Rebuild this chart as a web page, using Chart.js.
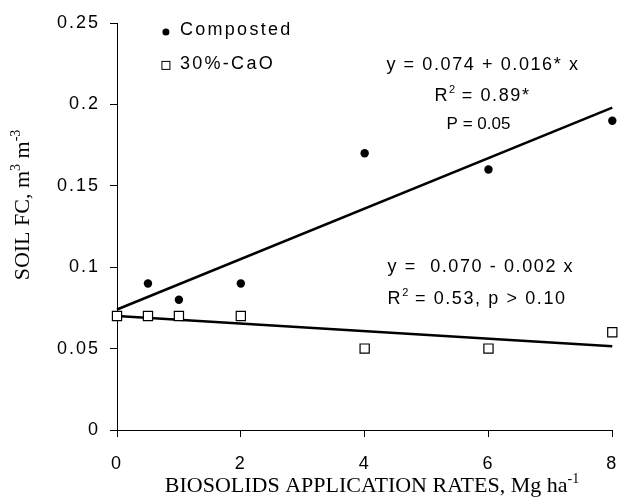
<!DOCTYPE html>
<html><head><meta charset="utf-8">
<script src="https://cdn.jsdelivr.net/npm/chart.js@4/dist/chart.umd.min.js"></script>
<style>html,body{margin:0;padding:0;background:#fff;}#wrap{width:620px;height:499px;}</style>
</head><body><div id="wrap"><canvas id="c" width="620" height="499"></canvas></div>
<script>
// ---- data ----
const rates = [0, 0.5, 1, 2, 4, 6, 8];
const composted = [0.07, 0.09, 0.08, 0.09, 0.17, 0.16, 0.19];
const cao = [0.07, 0.07, 0.07, 0.07, 0.05, 0.05, 0.06];
const trendX = [0, 8];
const trendComposted = [0.074, 0.198];
const trendCao = [0.070, 0.0515];
const xTickValues = [0, 2, 4, 6, 8];
const yTickLabels = ['0', '0.05', '0.1', '0.15', '0.2', '0.25'];
const seriesNames = ['Composted', '30%-CaO'];
const xTitle = 'BIOSOLIDS APPLICATION RATES, Mg ha';
const yTitle = 'SOIL FC, m';

const SANS = '"Liberation Sans", Arial, sans-serif';
const SERIF = '"Liberation Serif", "Times New Roman", serif';

function pts(xs, ys) { return xs.map((x, i) => ({x: x, y: ys[i]})); }

function drawRich(ctx, segs, x, y, align, size, family, spacing) {
  let total = 0;
  const parts = segs.map(s => {
    const fs = s.sup ? Math.round(size * 0.62) : size;
    ctx.font = fs + 'px ' + family;
    ctx.letterSpacing = (s.sup ? 0 : spacing) + 'px';
    const w = ctx.measureText(s.t).width;
    total += w;
    return {t: s.t, fs: fs, w: w, sup: s.sup};
  });
  let cx = align === 'center' ? x - total / 2 : (align === 'right' ? x - total : x);
  ctx.textAlign = 'left';
  ctx.textBaseline = 'alphabetic';
  parts.forEach(p => {
    ctx.font = p.fs + 'px ' + family;
    ctx.letterSpacing = (p.sup ? 0 : spacing) + 'px';
    ctx.fillText(p.t, cx, p.sup ? y - size * 0.42 : y);
    cx += p.w;
  });
  ctx.letterSpacing = '0px';
}

const textLayer = {
  id: 'textLayer',
  beforeDraw(chart) { chart.ctx.letterSpacing = '2px'; },
  afterDraw(chart) {
    const ctx = chart.ctx;
    const xs = chart.scales.x, ys = chart.scales.y;
    const X = v => xs.getPixelForValue(v), Y = v => ys.getPixelForValue(v);
    ctx.save();
    ctx.fillStyle = '#000';
    const fs = 18;
    const base = c => c + fs * 0.36;
    // legend
    const lx = X(0.774), l1 = Y(0.2469), l2 = Y(0.2255);
    ctx.beginPath(); ctx.arc(lx + 1, l1 + 4, 3.5, 0, Math.PI * 2); ctx.fill();
    ctx.strokeStyle = '#000'; ctx.lineWidth = 1;
    ctx.strokeRect(lx - 3, l2 - 1.5, 8, 8);
    drawRich(ctx, [{t: seriesNames[0]}], X(1.016), base(l1), 'left', fs, SANS, 2.3);
    drawRich(ctx, [{t: seriesNames[1]}], X(1.016), base(l2), 'left', fs, SANS, 2.3);
    // regression annotations
    drawRich(ctx, [{t: 'y = 0.074 + 0.016* x'}], X(5.911), base(Y(0.2249)), 'center', fs, SANS, 1.6);
    drawRich(ctx, [{t: 'R'}, {t: '2', sup: true}, {t: ' = 0.89*'}], X(5.903), base(Y(0.2062)), 'center', fs, SANS, 1.6);
    drawRich(ctx, [{t: 'P = 0.05'}], X(5.839), Y(0.1887) + 17 * 0.36, 'center', 17, SANS, 0);
    drawRich(ctx, [{t: 'y =  0.070 - 0.002 x'}], X(4.371), base(Y(0.1011)), 'left', fs, SANS, 1.6);
    drawRich(ctx, [{t: 'R'}, {t: '2', sup: true}, {t: ' = 0.53, p > 0.10'}], X(4.371), base(Y(0.0815)), 'left', fs, SANS, 1.6);
    // axis titles
    const tfs = 22;
    drawRich(ctx, [{t: xTitle}, {t: '-1', sup: true}], 372, 492, 'center', tfs, SERIF, 0);
    ctx.translate(22, 205);
    ctx.rotate(-Math.PI / 2);
    drawRich(ctx, [{t: yTitle}, {t: '3', sup: true}, {t: ' m'}, {t: '-3', sup: true}], 0, tfs * 0.33, 'center', tfs, SERIF, 0);
    ctx.restore();
    ctx.letterSpacing = '0px';
  }
};

new Chart(document.getElementById('c'), {
  type: 'scatter',
  data: {
    datasets: [
      { label: seriesNames[1], data: pts(rates, cao), pointStyle: 'rect', pointRadius: 6.5,
        pointBackgroundColor: '#fff', pointBorderColor: '#000', pointBorderWidth: 1.2, showLine: false, order: 0, clip: false },
      { label: seriesNames[0], data: pts(rates, composted), pointStyle: 'circle', pointRadius: 4.2,
        pointBackgroundColor: '#000', pointBorderColor: '#000', pointBorderWidth: 0, showLine: false, order: 1, clip: false },
      { label: 'trend ' + seriesNames[0], data: pts(trendX, trendComposted), showLine: true, borderColor: '#000',
        borderWidth: 2.5, pointRadius: 0, order: 2, clip: false },
      { label: 'trend ' + seriesNames[1], data: pts(trendX, trendCao), showLine: true, borderColor: '#000',
        borderWidth: 2.5, pointRadius: 0, order: 3, clip: false }
    ]
  },
  options: {
    responsive: false, animation: false, devicePixelRatio: 1,
    layout: { padding: { top: 23, right: 7, left: 0, bottom: 0 } },
    plugins: { legend: { display: false }, tooltip: { enabled: false } },
    scales: {
      x: {
        type: 'linear', min: 0, max: 8,
        afterFit(s) { s.height = 69; s.paddingRight = 0; s.paddingLeft = 0; },
        afterBuildTicks(s) { s.ticks = xTickValues.map(v => ({value: v})); },
        grid: { drawOnChartArea: false, drawTicks: true, tickLength: 7, color: '#000' },
        border: { display: true, color: '#000', width: 1 },
        ticks: { color: '#000', padding: 16, font: { family: SANS, size: 18 }, maxRotation: 0 }
      },
      y: {
        type: 'linear', min: 0, max: 0.25,
        afterFit(s) { s.width = 117; s.paddingTop = 0; s.paddingBottom = 0; },
        afterBuildTicks(s) { s.ticks = yTickLabels.map(v => ({value: parseFloat(v)})); },
        grid: { drawOnChartArea: false, drawTicks: true, tickLength: 7, color: '#000' },
        border: { display: true, color: '#000', width: 1 },
        ticks: { color: '#000', padding: 10, font: { family: SANS, size: 18 },
          callback: (v, i) => yTickLabels[i] }
      }
    }
  },
  plugins: [textLayer]
});
</script></body></html>
